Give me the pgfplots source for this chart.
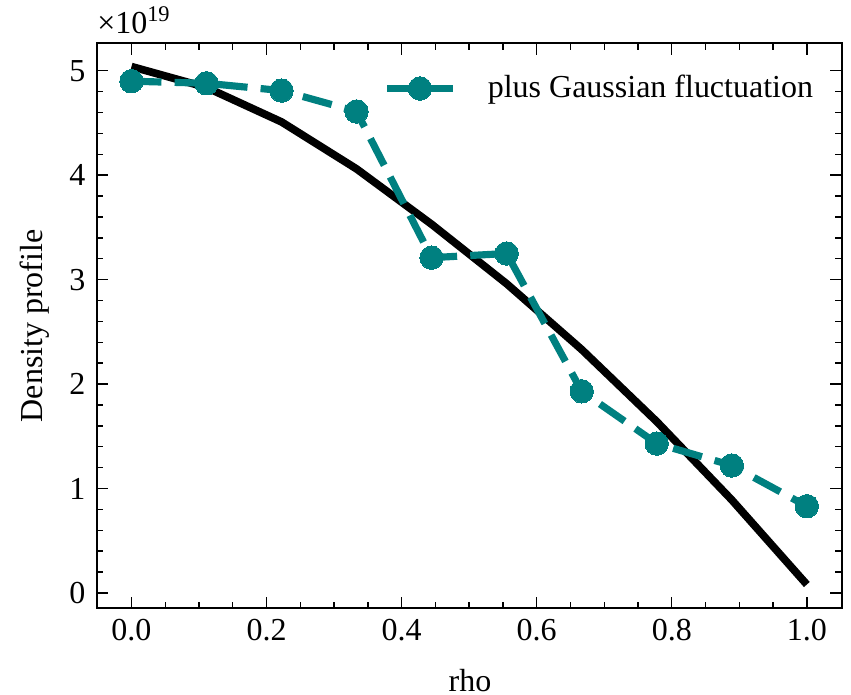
\documentclass[border=0pt]{standalone}
\usepackage{fontspec}
\setmainfont{Liberation Serif}
\usepackage{pgfplots}
\pgfplotsset{compat=1.18}
\definecolor{tealc}{RGB}{0,128,128}
\begin{document}
\fontsize{11.2pt}{13.5pt}\selectfont
\begin{tikzpicture}
\begin{axis}[
  scale only axis,
  width=260.8pt, height=197.8pt,
  xmin=-0.0515, xmax=1.0516,
  ymin=-0.148, ymax=5.263,
  xtick={0,0.2,0.4,0.6,0.8,1.0},
  ytick={0,1,2,3,4,5},
  minor x tick num=3,
  minor y tick num=4,
  tick align=inside,
  xtick pos=both, ytick pos=both,
  major tick length=4pt,
  minor tick length=2.3pt,
  every tick/.style={black, line width=0.5pt},
  axis line style={line width=0.6pt},
  /pgf/number format/assume math mode=true,
  xticklabel style={/pgf/number format/.cd, fixed, fixed zerofill, precision=1},
  yticklabel style={/pgf/number format/.cd, fixed, precision=0},
  xlabel={rho},
  ylabel={Density profile},
  xlabel style={at={(axis description cs:0.501,-0.127)}, anchor=center},
  ylabel style={at={(axis description cs:-0.083,0.5)}, anchor=center},
  legend style={draw=none, fill=none, inner sep=0pt, at={(axis description cs:0.97,0.92)}, anchor=east},
  legend image code/.code={\draw[mark repeat=2, mark phase=2, #1, solid] plot coordinates {(0pt,0pt) (11.5pt,0pt) (23pt,0pt)}; \path (32pt,0pt);},
  legend cell align=left,
]
\addplot[black, line width=2.7pt, forget plot] coordinates {
 (0,5.04) (0.1111,4.84) (0.2222,4.51) (0.3333,4.06) (0.4444,3.53)
 (0.5556,2.96) (0.6667,2.33) (0.7778,1.64) (0.8889,0.89) (1.0,0.08)};
\addplot[tealc, line width=2.5pt, dash pattern=on 10.5pt off 4.6pt, mark=*, mark size=4.1pt, mark options={solid, fill=tealc, draw=tealc, line width=0pt}] coordinates {
 (0,4.90) (0.1111,4.88) (0.2222,4.81) (0.3333,4.61) (0.4444,3.21)
 (0.5556,3.25) (0.6667,1.93) (0.7778,1.43) (0.8889,1.22) (1.0,0.83)};
\addlegendentry{plus Gaussian fluctuation}
\coordinate (bl) at (rel axis cs:0,0);
\coordinate (tr) at (rel axis cs:1,1);
\coordinate (tl) at (rel axis cs:0,1);
\end{axis}
\node[anchor=base west, inner sep=0pt] at ([yshift=3.5pt]tl) {×10\textsuperscript{19}};
\pgfresetboundingbox
\path ([shift={(-33.85pt,-30.1pt)}]bl) rectangle ([shift={(3.26pt,15.16pt)}]tr);
\end{tikzpicture}
\end{document}
